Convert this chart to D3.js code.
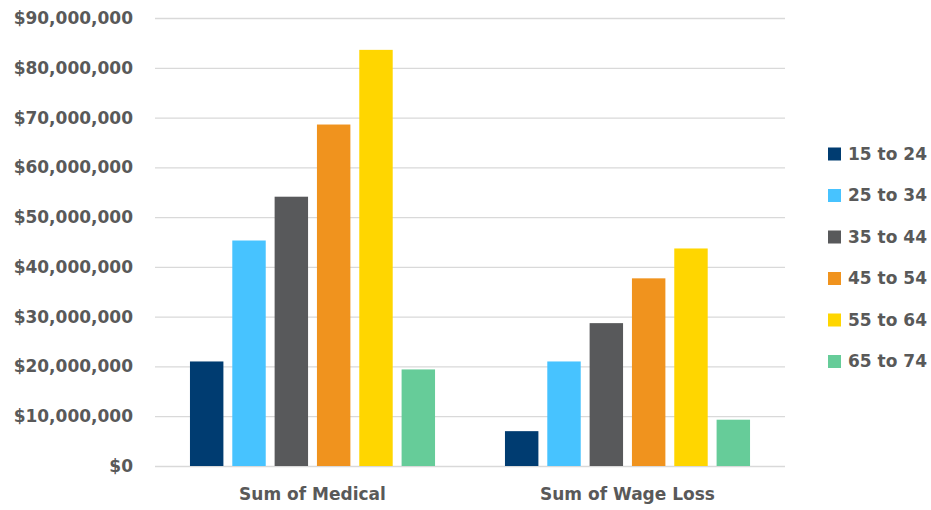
<!DOCTYPE html>
<html>
<head>
<meta charset="utf-8">
<script src="https://cdn.jsdelivr.net/npm/d3@7"></script>
<style>
  body { margin: 0; background: #fff; }
  text { font-family: "DejaVu Sans", "Open Sans", sans-serif; font-weight: 700; fill: #595959; }
</style>
</head>
<body>
<div id="chart"></div>
<script>
const groups = ["Sum of Medical", "Sum of Wage Loss"];
const ageBands = ["15 to 24", "25 to 34", "35 to 44", "45 to 54", "55 to 64", "65 to 74"];
const medical = [21000000, 45300000, 54100000, 68600000, 83600000, 19400000];
const wageLoss = [7000000, 21000000, 28700000, 37700000, 43700000, 9300000];
const colors = ["#003C71", "#47C3FF", "#58595B", "#F0931E", "#FFD600", "#66CC99"];
const yTicks = [0, 10000000, 20000000, 30000000, 40000000, 50000000, 60000000, 70000000, 80000000, 90000000];

const width = 931, height = 510;
const margin = { top: 18, right: 146, bottom: 44, left: 155 };

const svg = d3.select("#chart")
  .append("svg")
  .attr("width", width)
  .attr("height", height);

const y = d3.scaleLinear()
  .domain([0, 90000000])
  .range([height - margin.bottom, margin.top]);

const x0 = d3.scaleBand()
  .domain(groups)
  .range([margin.left, width - margin.right])
  .paddingInner(0.222)
  .paddingOuter(0.111);

const x1 = d3.scaleBand()
  .domain(ageBands)
  .range([0, x0.bandwidth()])
  .paddingInner(0.21);

const color = d3.scaleOrdinal().domain(ageBands).range(colors);

// gridlines + y labels
const yAxis = svg.append("g")
  .attr("transform", `translate(${margin.left},0)`)
  .call(d3.axisLeft(y)
    .tickValues(yTicks)
    .tickSize(-(width - margin.left - margin.right))
    .tickPadding(22)
    .tickFormat(d => "$" + d3.format(",")(d)));
yAxis.select(".domain").remove();
yAxis.selectAll(".tick line").attr("stroke", "#d9d9d9").attr("stroke-width", 1.3);
yAxis.selectAll(".tick text").style("font-size", "17px").attr("fill", "#595959");

const data = groups.map((g, i) => ({
  group: g,
  values: ageBands.map((a, j) => ({ band: a, value: i === 0 ? medical[j] : wageLoss[j] }))
}));

const gGroups = svg.selectAll(".grp")
  .data(data)
  .enter().append("g")
  .attr("class", "grp")
  .attr("transform", d => `translate(${x0(d.group)},0)`);

gGroups.selectAll("rect")
  .data(d => d.values)
  .enter().append("rect")
  .attr("x", d => x1(d.band))
  .attr("y", d => y(d.value))
  .attr("width", x1.bandwidth())
  .attr("height", d => y(0) - y(d.value))
  .attr("fill", d => color(d.band));

// category labels
const xAxis = svg.append("g")
  .attr("transform", `translate(0,${height - margin.bottom})`)
  .call(d3.axisBottom(x0).tickSize(0).tickPadding(22));
xAxis.select(".domain").remove();
xAxis.selectAll(".tick text").style("font-size", "17px").attr("fill", "#595959");

// legend
const legend = svg.append("g").attr("transform", "translate(828,154)");
const items = legend.selectAll(".item")
  .data(ageBands)
  .enter().append("g")
  .attr("class", "item")
  .attr("transform", (d, i) => `translate(0,${i * 41.5})`);
items.append("rect")
  .attr("x", 0).attr("y", -6.5)
  .attr("width", 13).attr("height", 13)
  .attr("fill", d => color(d));
items.append("text")
  .attr("x", 20).attr("dy", "0.35em")
  .style("font-size", "17px")
  .text(d => d);
</script>
</body>
</html>
